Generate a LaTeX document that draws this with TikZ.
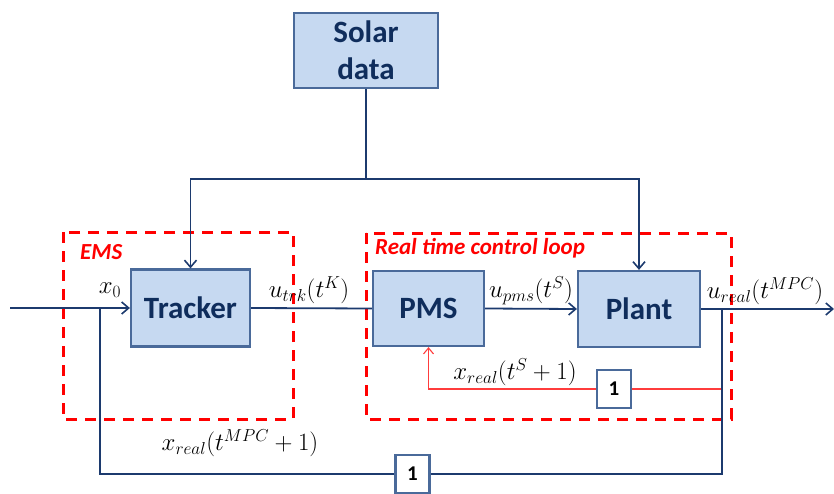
\documentclass[tikz,border=0pt]{standalone}
\usepackage{fontspec}
\setmainfont{Carlito}
\usetikzlibrary{arrows.meta}
\definecolor{boxfill}{HTML}{C6D9F1}
\definecolor{boxdraw}{HTML}{4A6A9A}
\definecolor{boxtext}{HTML}{0F2D5C}
\definecolor{linecol}{HTML}{1C3A6E}
\definecolor{dashred}{HTML}{FF0000}
\definecolor{fbred}{HTML}{FF3C3C}
\tikzset{
  block/.style={draw=boxdraw, fill=boxfill, line width=2.2pt, text=boxtext,
    font=\fontsize{31}{37}\selectfont\bfseries, align=center, inner sep=0pt},
  unitbox/.style={draw=boxdraw, fill=white, line width=2.2pt, text=black,
    font=\fontsize{21}{25}\selectfont\bfseries, minimum width=34pt, minimum height=38pt, inner sep=0pt},
  conn/.style={draw=linecol, line width=1.8pt},
  arr/.style={conn, -{Straight Barb[length=7pt,width=12pt,line width=1.6pt]}},
  redarr/.style={draw=fbred, line width=1.1pt, -{Straight Barb[length=6pt,width=10pt,line width=1.1pt]}},
  region/.style={draw=dashred, line width=3pt, dash pattern=on 11pt off 8pt},
  regionlabel/.style={text=dashred, font=\fontsize{23}{27}\selectfont\bfseries\itshape, anchor=west, inner sep=0pt},
  mathlabel/.style={font=\fontsize{24}{28}\selectfont, inner sep=0pt, text=black}
}
\begin{document}
\begin{tikzpicture}[x=1pt,y=-1pt]
\useasboundingbox (0,0) rectangle (834,494);
\clip (0,0) rectangle (834,494);
% regions
\draw[region] (63,232) rectangle (293,419);
\draw[region] (366,233) rectangle (731,419);
\node[regionlabel] (emslabel) at (80,252) {EMS};
\node[regionlabel] (rtlabel) at (375,248) {Real time control loop};
% blocks
\node[block, minimum width=144pt, minimum height=75pt] (solar) at (366,50.5) {Solar\\data};
\node[block, minimum width=119pt, minimum height=77pt] (tracker) at (190.5,308) {Tracker};
\node[block, minimum width=111pt, minimum height=75pt] (pms) at (428.5,308.5) {PMS};
\node[block, minimum width=122pt, minimum height=76pt] (plant) at (639,309) {Plant};
\node[unitbox] (unitA) at (614,389) {1};
\node[unitbox] (unitB) at (412.5,474) {1};
% coordinates
\coordinate (split) at (366,179);
\coordinate (input) at (10,308);
\coordinate (fbjoin) at (100,308);
\coordinate (tap) at (722,309);
\coordinate (tapred) at (722,389);
\coordinate (output) at (834,309);
% solar distribution
\draw[conn] (solar.south) -- (split);
\draw[arr] (split) -| (tracker.north);
\draw[arr] (split) -| (plant.north);
% main path
\draw[arr] (input) -- (tracker.west);
\draw[conn] (tracker.east) -- (pms.west);
\draw[arr] (pms.east) -- (plant.west);
\draw[arr] (plant.east) -- (output);
% red inner loop
\draw[draw=fbred, line width=1.1pt] (tap) -- (tapred) -- (unitA.east);
\draw[redarr] (unitA.west) -| (pms.south);
% outer feedback
\draw[conn] (tap) |- (unitB.east);
\draw[conn] (unitB.west) -| (fbjoin);
% labels
\node[mathlabel] (lx0) at (110,290) {$x_0$};
\node[mathlabel] (lutrk) at (309,290) {$u_{trk}(t^K)$};
\node[mathlabel] (lupms) at (531,291) {$u_{pms}(t^S)$};
\node[mathlabel] (lureal) at (765,291) {$u_{real}(t^{MPC})$};
\node[mathlabel] (lxs) at (515,372) {$x_{real}(t^S+1)$};
\node[mathlabel] (lxmpc) at (240,443) {$x_{real}(t^{MPC}+1)$};
\end{tikzpicture}
\end{document}
